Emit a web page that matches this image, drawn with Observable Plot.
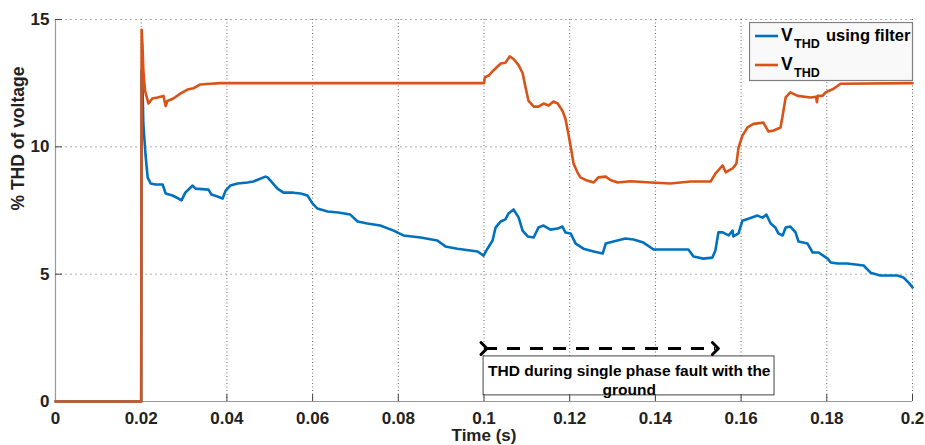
<!DOCTYPE html>
<html>
<head>
<meta charset="utf-8">
<script src="https://cdn.jsdelivr.net/npm/d3@7"></script>
<script src="https://cdn.jsdelivr.net/npm/@observablehq/plot@0.6"></script>
<style>
  html, body { margin: 0; padding: 0; background: #fff; }
  #wrap { position: relative; width: 925px; height: 445px; overflow: hidden; }
  #legend { position: absolute; left: 749px; top: 22px; }
</style>
</head>
<body>
<div id="wrap"></div>
<script>
// ---- data ----
const xTicks = [0, 0.02, 0.04, 0.06, 0.08, 0.1, 0.12, 0.14, 0.16, 0.18, 0.2];
const yTicks = [0, 5, 10, 15];

const tOrange = [0, 0.0200, 0.0201, 0.0203, 0.0205, 0.0209, 0.0217, 0.0226, 0.0238, 0.0252, 0.0257, 0.0261, 0.0275, 0.0292, 0.0308, 0.0322, 0.0338, 0.0362, 0.0385,
  0.1000, 0.1002, 0.1011, 0.1022, 0.1039, 0.1050, 0.1060, 0.1069, 0.1081, 0.1090, 0.1097, 0.1104, 0.1116, 0.1127, 0.1139, 0.1151, 0.1162, 0.1172,
  0.1183, 0.1190, 0.1197, 0.1204, 0.1209, 0.1218, 0.1225, 0.1237, 0.1256, 0.1267, 0.1284, 0.1295, 0.1312, 0.1342, 0.1389, 0.1435, 0.1482, 0.1529,
  0.1540, 0.1557, 0.1564, 0.1580, 0.1589, 0.1594, 0.1603, 0.1615, 0.1629, 0.1652, 0.1664, 0.1676, 0.1692, 0.1697, 0.1704, 0.1715, 0.1732, 0.1762,
  0.1775, 0.1777, 0.1779, 0.1790, 0.1797, 0.1816, 0.1832, 0.2000];
const vOrange = [0, 0, 14.6, 14.0, 13.0, 12.2, 11.7, 11.9, 11.94, 12.0, 11.6, 11.8, 11.9, 12.1, 12.25, 12.3, 12.45, 12.48, 12.5,
  12.5, 12.73, 12.8, 13.0, 13.27, 13.3, 13.55, 13.45, 13.2, 12.9, 12.33, 11.8, 11.58, 11.58, 11.7, 11.62, 11.78, 11.7,
  11.42, 11.1, 10.5, 9.85, 9.34, 9.0, 8.8, 8.7, 8.6, 8.8, 8.83, 8.7, 8.6, 8.65, 8.6, 8.56, 8.64, 8.64,
  8.95, 9.27, 9.0, 9.15, 9.34, 9.97, 10.44, 10.76, 10.9, 10.95, 10.6, 10.64, 10.76, 11.23, 11.94, 12.14, 12.0, 11.94,
  11.97, 11.75, 12.0, 12.0, 12.14, 12.28, 12.48, 12.5];

const tBlue = [0, 0.0200, 0.0201, 0.0203, 0.0205, 0.0210, 0.0215, 0.0222, 0.0233, 0.0250, 0.0257, 0.0273, 0.0287, 0.0294, 0.0303, 0.0320, 0.0327,
  0.0357, 0.0364, 0.0378, 0.0390, 0.0397, 0.0408, 0.0425, 0.0448, 0.0462, 0.0490, 0.0495, 0.0518, 0.0532, 0.0555, 0.0572, 0.0588, 0.0600, 0.0611,
  0.0635, 0.0660, 0.0688, 0.0705, 0.0728, 0.0758, 0.0789, 0.0812, 0.0852, 0.0891, 0.0910, 0.0938, 0.0985, 0.0999, 0.1008, 0.1020, 0.1027, 0.1039,
  0.1050, 0.1057, 0.1069, 0.1081, 0.1090, 0.1102, 0.1116, 0.1127, 0.1139, 0.1155, 0.1172, 0.1183, 0.1190, 0.1202, 0.1214, 0.1232, 0.1256, 0.1277,
  0.1284, 0.1302, 0.1330, 0.1349, 0.1372, 0.1396, 0.1435, 0.1477, 0.1489, 0.1512, 0.1533, 0.1540, 0.1547, 0.1557, 0.1571, 0.1580, 0.1582, 0.1594,
  0.1603, 0.1617, 0.1638, 0.1650, 0.1659, 0.1669, 0.1680, 0.1687, 0.1697, 0.1704, 0.1715, 0.1727, 0.1734, 0.1755, 0.1767, 0.1781, 0.1802, 0.1809,
  0.1825, 0.1848, 0.1886, 0.1902, 0.1925, 0.1965, 0.1979, 0.1991, 0.2000];
const vBlue = [0, 0, 13.0, 12.4, 10.9, 9.7, 8.8, 8.56, 8.52, 8.52, 8.17, 8.09, 7.97, 7.9, 8.2, 8.48, 8.36,
  8.32, 8.13, 8.05, 7.97, 8.28, 8.48, 8.56, 8.6, 8.64, 8.83, 8.8, 8.36, 8.2, 8.2, 8.17, 8.09, 7.77, 7.58,
  7.46, 7.42, 7.34, 7.07, 6.99, 6.91, 6.71, 6.52, 6.44, 6.32, 6.09, 6.0, 5.89, 5.73, 6.0, 6.32, 6.83, 7.07,
  7.15, 7.38, 7.54, 7.22, 6.71, 6.48, 6.44, 6.83, 6.91, 6.75, 6.79, 6.87, 6.64, 6.6, 6.2, 6.0, 5.89, 5.81,
  6.2, 6.28, 6.4, 6.36, 6.24, 5.97, 5.97, 5.97, 5.69, 5.61, 5.65, 5.93, 6.64, 6.64, 6.52, 6.71, 6.48, 6.6,
  7.1, 7.18, 7.3, 7.22, 7.34, 6.99, 6.83, 6.6, 6.52, 6.83, 6.87, 6.64, 6.28, 6.2, 5.85, 5.85, 5.61, 5.46,
  5.42, 5.42, 5.34, 5.06, 4.95, 4.95, 4.87, 4.67, 4.48];

const seriesNames = ["V_THD using filter", "V_THD"];
const seriesColors = ["#0072BD", "#D95319"];

// annotation (double arrow + text box), in data units
const arrowX = [0.1, 0.154];
const arrowY = 2.08;
const boxX = [0.0999, 0.1678];
const boxY = [0.24, 1.77];
const noteText = "THD during single phase fault with the\nground";
const noteX = 0.1339;
const noteY = 0.87;

const xLabel = "Time (s)";
const yLabel = "% THD of voltage";

// ---- build ----
const blue = tBlue.map((t, i) => ({t, v: vBlue[i]}));
const orange = tOrange.map((t, i) => ({t, v: vOrange[i]}));
const fmt = d3.format("~g");
const font = "'Liberation Sans', Arial, sans-serif";

const chart = Plot.plot({
  width: 925,
  height: 445,
  marginLeft: 55,
  marginRight: 13,
  marginTop: 19,
  marginBottom: 44,
  style: {fontFamily: font, fontWeight: "bold", fontSize: "17px", color: "#222", background: "#fff"},
  x: {domain: [0, 0.2]},
  y: {domain: [0, 15]},
  marks: [
    Plot.gridY(yTicks.slice(1), {stroke: "#aaa", strokeOpacity: 1, strokeDasharray: "2,3"}),
    Plot.gridX(xTicks.slice(1), {stroke: "#666", strokeOpacity: 1, strokeDasharray: "1,2.5"}),
    Plot.ruleX([0], {stroke: "#999", strokeWidth: 1.2}),
    Plot.ruleY([0], {stroke: "#999", strokeWidth: 1.2}),
    Plot.axisX({ticks: xTicks, tickSize: 0, tickPadding: 10, tickFormat: fmt, label: null, fontSize: 17}),
    Plot.axisY({ticks: yTicks, tickSize: 0, tickPadding: 6, tickFormat: fmt, label: null, fontSize: 17}),
    Plot.text([xLabel], {frameAnchor: "bottom", dy: 34, lineAnchor: "middle", fontSize: 17, fontWeight: "bold", fill: "#222"}),
    Plot.text([yLabel], {frameAnchor: "left", dx: -37, rotate: -90, fontSize: 17.5, fontWeight: "bold", fill: "#222"}),
    // annotation box and arrow
    Plot.rect([0], {x1: boxX[0], x2: boxX[1], y1: boxY[0], y2: boxY[1], fill: "white", stroke: "#444", strokeWidth: 1}),
    Plot.text([noteText], {x: noteX, y: noteY, fontSize: 15.5, fontWeight: "bold", fill: "#000", lineHeight: 1.22, letterSpacing: "-0.2px"}),
    Plot.link([0], {x1: arrowX[0], x2: arrowX[1], y1: arrowY, y2: arrowY, stroke: "#000", strokeWidth: 3, strokeDasharray: "13,10", markerStart: "arrow", markerEnd: "arrow"}),
    // inward ticks
    Plot.tickX(xTicks.slice(1), {x: d => d, stroke: "#444", insetTop: 375}),
    Plot.tickY(yTicks.slice(1), {y: d => d, stroke: "#444", insetRight: 850}),
    // series
    Plot.line(blue, {x: "t", y: "v", stroke: seriesColors[0], strokeWidth: 2.6}),
    Plot.line(orange, {x: "t", y: "v", stroke: seriesColors[1], strokeWidth: 2.6})
  ]
});
document.getElementById("wrap").appendChild(chart);

// legend overlay
const lg = d3.select("#wrap").append("svg").attr("id", "legend")
  .attr("width", 165).attr("height", 61)
  .style("font-family", font).style("font-weight", "bold");
lg.append("rect").attr("x", 0.5).attr("y", 0.5).attr("width", 163).attr("height", 58)
  .attr("fill", "#f9f9f9").attr("stroke", "#7f7f7f").attr("stroke-width", 1.2);
seriesNames.forEach((name, i) => {
  const y = 14 + i * 29;
  lg.append("line").attr("x1", 6).attr("x2", 29).attr("y1", y).attr("y2", y)
    .attr("stroke", seriesColors[i]).attr("stroke-width", 2.6);
  const parts = name.split("_");
  const rest = parts[1].split(" ");
  const t = lg.append("text").attr("fill", "#000");
  t.append("tspan").attr("x", 32).attr("y", y + 5).attr("font-size", 17.5).text(parts[0]);
  t.append("tspan").attr("x", 45).attr("y", y + 12).attr("font-size", 12.5).text(rest[0]);
  if (rest.length > 1) {
    t.append("tspan").attr("x", 77).attr("y", y + 5).attr("font-size", 16.5).text(rest.slice(1).join(" "));
  }
});
</script>
</body>
</html>
